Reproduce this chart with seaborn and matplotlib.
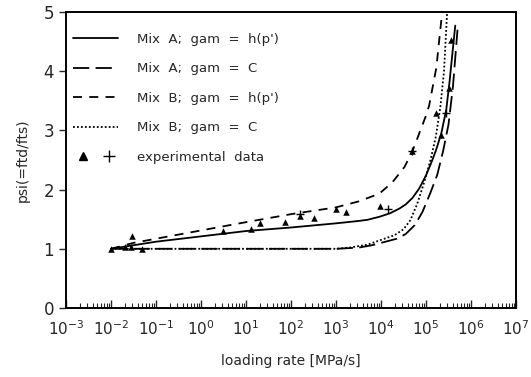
import numpy as np
import pandas as pd
import matplotlib
matplotlib.use('Agg')
import matplotlib.pyplot as plt
import seaborn as sns
from matplotlib.lines import Line2D
from matplotlib.legend_handler import HandlerTuple
from matplotlib.ticker import LogLocator, NullFormatter

# curves (log10 of loading rate, psi)
a_h_logx = [-2, -1, 0, 1, 2, 3, 3.5, 3.7, 3.96, 4.2, 4.41, 4.55, 4.7, 4.85, 5.0, 5.12, 5.22,
            5.34, 5.45, 5.52, 5.58, 5.65]
a_h_psi = [1.0, 1.12, 1.21, 1.30, 1.36, 1.43, 1.47, 1.49, 1.54, 1.60, 1.68, 1.75, 1.86, 2.02,
           2.24, 2.46, 2.66, 2.95, 3.35, 3.8, 4.25, 4.77]

a_c_logx = [-2, 3.0, 3.5, 3.8, 4.1, 4.35, 4.55, 4.75, 4.92, 5.1, 5.25, 5.38, 5.5, 5.6, 5.7]
a_c_psi = [1.0, 1.0, 1.02, 1.06, 1.12, 1.17, 1.25, 1.4, 1.62, 1.95, 2.25, 2.65, 3.1, 3.75, 4.7]

b_h_logx = [-2, -1.5, 0, 1, 2, 3, 3.5, 3.96, 4.25, 4.52, 4.69, 4.8, 4.9, 5.0, 5.07, 5.14,
            5.23, 5.29, 5.36]
b_h_psi = [1.0, 1.10, 1.31, 1.45, 1.585, 1.70, 1.8, 1.93, 2.12, 2.38, 2.63, 2.85, 3.05, 3.25,
           3.42, 3.7, 4.06, 4.5, 5.0]

b_c_logx = [-2, 3.0, 3.3, 3.7, 4.0, 4.3, 4.5, 4.65, 4.8, 4.95, 5.1, 5.22, 5.32, 5.4, 5.47]
b_c_psi = [1.0, 1.0, 1.02, 1.07, 1.15, 1.23, 1.33, 1.48, 1.75, 2.1, 2.5, 2.9, 3.4, 4.0, 5.0]

# experimental data
tri_logx = [-2.0, -1.7, -1.55, -1.54, -1.31, 0.48, 1.10, 1.32, 1.86, 2.21, 2.52, 2.99, 3.23, 3.98,
            4.69, 5.23, 5.34, 5.51, 5.56]
tri_psi = [1.0, 1.03, 1.03, 1.21, 1.0, 1.30, 1.33, 1.43, 1.45, 1.55, 1.52, 1.67, 1.62, 1.72,
           2.66, 3.29, 2.93, 3.71, 4.52]
plus_logx = [2.21, 4.16, 4.69, 5.45]
plus_psi = [1.58, 1.67, 2.66, 3.29]

labels = ["Mix  A;  gam  =  h(p')", "Mix  A;  gam  =  C",
          "Mix  B;  gam  =  h(p')", "Mix  B;  gam  =  C"]

sns.set_style("ticks")
plt.rcParams['font.family'] = ['DejaVu Sans']

fig = plt.figure(figsize=(5.31, 3.77), dpi=100)
ax = fig.add_axes([66 / 531, 69 / 377, 450 / 531, 296 / 377])

curves = [(a_h_logx, a_h_psi, '-'),
          (a_c_logx, a_c_psi, (0, (9, 3.5))),
          (b_h_logx, b_h_psi, (0, (5, 4))),
          (b_c_logx, b_c_psi, (0, (1, 1.2)))]
handles = []
for (lx, ps, ls), lab in zip(curves, labels):
    df = pd.DataFrame({'x': np.power(10.0, lx), 'psi': ps})
    sns.lineplot(data=df, x='x', y='psi', ax=ax, color='black', linewidth=1.3,
                 linestyle=ls, estimator=None, sort=False)
    handles.append(Line2D([], [], color='black', linewidth=1.3, linestyle=ls))

sns.scatterplot(x=np.power(10.0, tri_logx), y=tri_psi, ax=ax, marker='^', color='black',
                s=22, linewidth=0)
sns.scatterplot(x=np.power(10.0, plus_logx), y=plus_psi, ax=ax, marker='+', color='black',
                s=30, linewidth=1.0)

ax.set_xscale('log')
ax.set_xlim(1e-3, 1e7)
ax.set_ylim(0, 5)
ax.xaxis.set_major_locator(LogLocator(base=10, numticks=20))
ax.xaxis.set_minor_locator(LogLocator(base=10, subs=np.arange(2, 10), numticks=200))
ax.xaxis.set_minor_formatter(NullFormatter())
ax.set_yticks([0, 1, 2, 3, 4, 5])
ax.tick_params(axis='x', which='major', direction='in', length=6, width=1.0, labelsize=11, pad=8)
ax.tick_params(axis='x', which='minor', direction='in', length=3.5, width=0.8)
ax.tick_params(axis='y', direction='out', length=5, width=1.0, labelsize=12)
for sp in ax.spines.values():
    sp.set_visible(True)
    sp.set_linewidth(1.4)
    sp.set_color('black')

ax.set_xlabel('loading rate [MPa/s]', fontsize=10, labelpad=12)
ax.set_ylabel('psi(=ftd/fts)', fontsize=10, labelpad=10)

exp_handle = (Line2D([], [], color='black', marker='^', linestyle='none', markersize=6),
              Line2D([], [], color='black', marker='+', linestyle='none', markersize=9))
leg = ax.legend(handles + [exp_handle], labels + ['experimental  data'],
                loc='upper left', bbox_to_anchor=(-0.01, 0.97), frameon=False,
                fontsize=9.5, handlelength=3.4, handletextpad=1.4, labelspacing=1.25,
                handler_map={tuple: HandlerTuple(ndivide=None, pad=0.6)})

fig.savefig('out.png', dpi=100)
